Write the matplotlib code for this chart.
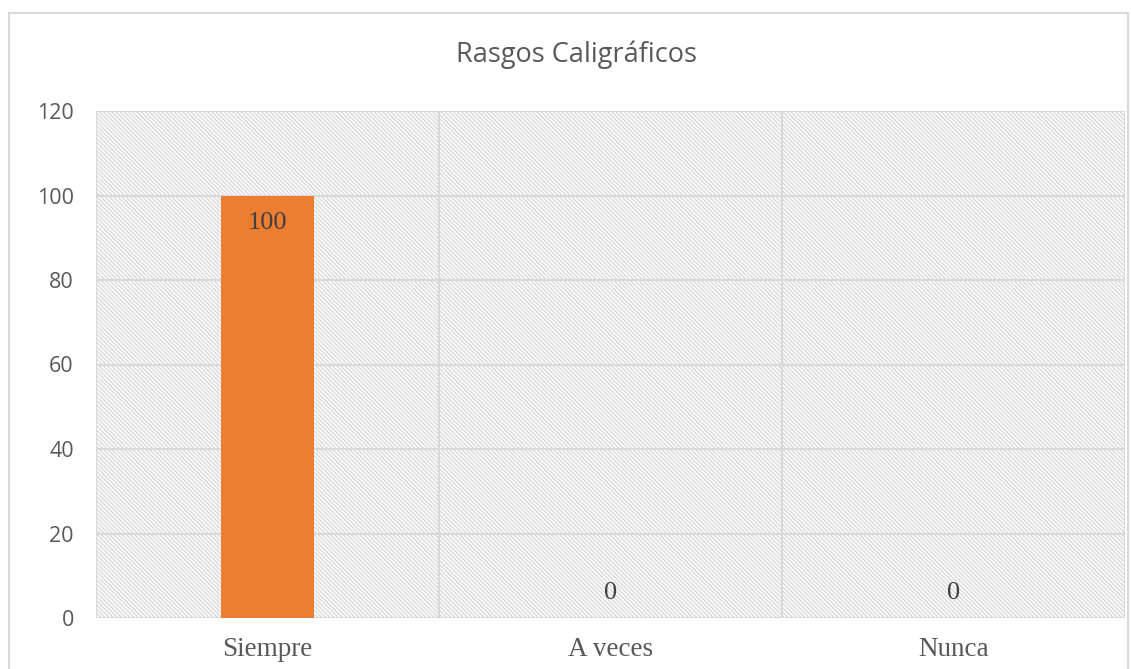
import numpy as np
import matplotlib.pyplot as plt
from matplotlib.patches import Rectangle

# Datos
categorias = ['Siempre', 'A veces', 'Nunca']
valores = [100, 0, 0]
yticks = [0, 20, 40, 60, 80, 100, 120]

plt.rcParams['hatch.linewidth'] = 0.9
plt.rcParams['hatch.color'] = '#d6d6d6'

fig = plt.figure(figsize=(11.31, 6.69), dpi=100)
ax = fig.add_axes([96/1131, 51/669, 1029/1131, 507/669])

# Borde del gráfico
fig.patches.append(Rectangle((9/1131, -0.05), 1119/1131, 1.05 - 13/669,
                             transform=fig.transFigure, fill=False,
                             edgecolor='#d9d9d9', linewidth=1.5))

x = np.arange(len(categorias))
ax.set_xlim(-0.5, len(categorias) - 0.5)
ax.set_ylim(0, 120)

# Fondo rayado
ax.add_patch(Rectangle((-0.5, 0), len(categorias), 120, facecolor='white',
                       edgecolor='#d6d6d6', hatch='\\' * 8, linewidth=0, zorder=0))

for y in yticks:
    ax.axhline(y, color='#d9d9d9', linewidth=1.5, zorder=1)
for b in np.arange(-0.5, len(categorias), 1):
    ax.axvline(b, color='#d9d9d9', linewidth=1.5, zorder=1)

bars = ax.bar(x, valores, width=0.274, color='#ed7d31', zorder=2)

for xi, v in zip(x, valores):
    yy = v - 6.5 if v > 0 else 6.0
    ax.text(xi, yy, str(v), ha='center', va='center', fontsize=19,
            family='Liberation Serif', color='#404040', zorder=3)

for s in ax.spines.values():
    s.set_visible(False)

ax.set_yticks(yticks)
ax.set_yticklabels([str(t) for t in yticks], fontsize=15.5, color='#595959',
                   family='Open Sans')
ax.set_xticks(x)
ax.set_xticklabels(categorias, fontsize=19.5, color='#595959', family='Liberation Serif')
ax.tick_params(length=0)
ax.tick_params(axis='y', pad=16)
ax.tick_params(axis='x', pad=14)

fig.text(577/1131, 1 - 55/669, 'Rasgos Caligráficos', ha='center', va='center',
         fontsize=19.5, color='#595959', family='Open Sans')

plt.savefig('out.png', dpi=100)
